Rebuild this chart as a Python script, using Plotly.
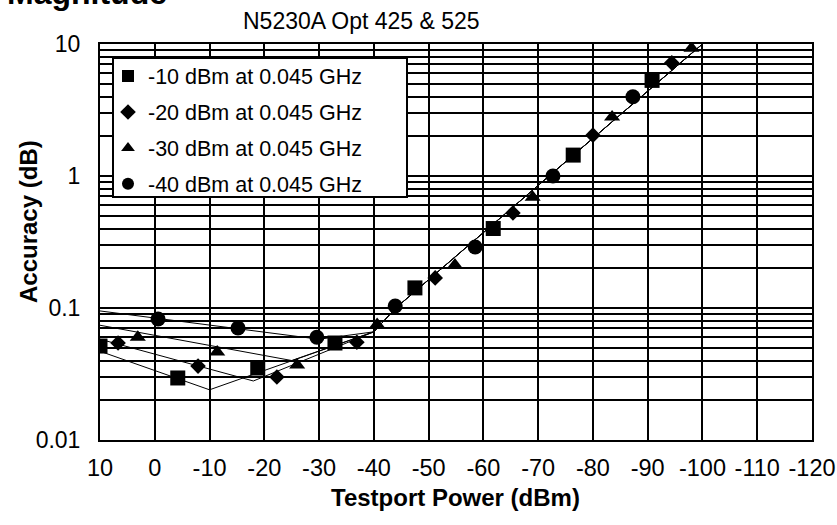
import plotly.graph_objects as go

# ---- data ----
SQ_X = [10, -4.2, -18.8, -32.9, -47.5, -61.8, -76.4, -90.8]
SQ_Y = [0.0515, 0.0295, 0.0351, 0.0543, 0.142, 0.40, 1.44, 5.3]
DM_X = [6.7, -7.9, -22.3, -36.9, -51.2, -65.4, -80.0, -94.4]
DM_Y = [0.0543, 0.0363, 0.030, 0.055, 0.169, 0.525, 2.04, 7.2]
TR_X = [3.1, -11.4, -26.0, -40.6, -54.8, -69.0, -83.5, -98.0]
TR_Y = [0.060, 0.0464, 0.037, 0.075, 0.212, 0.69, 2.8, 9.3]
CI_X = [-0.6, -15.2, -29.6, -43.9, -58.5, -72.7, -87.3]
CI_Y = [0.0826, 0.0705, 0.060, 0.1035, 0.29, 1.0, 3.98]

# thin model lines (left part differs, right part shared)
LA_X = [10, -30, -40];  LA_Y = [0.095, 0.058, 0.066]
LB_X = [10, -25, -40];  LB_Y = [0.074, 0.040, 0.066]
LC_X = [10, -18, -40];  LC_Y = [0.058, 0.028, 0.066]
LD_X = [10, -10, -40];  LD_Y = [0.047, 0.024, 0.066]
DIAG_X = [-44, -100]
DIAG_Y = [0.1, 10.0]

SERIES_NAMES = ["-10 dBm at 0.045 GHz", "-20 dBm at 0.045 GHz",
                "-30 dBm at 0.045 GHz", "-40 dBm at 0.045 GHz"]
X_TICKS = [10, 0, -10, -20, -30, -40, -50, -60, -70, -80, -90, -100, -110, -120]
Y_TICKS = [0.01, 0.1, 1, 10]
Y_TICK_TEXT = ["0.01", "0.1", "1", "10"]
Y_MINOR = [m * d for d in (0.01, 0.1, 1) for m in range(2, 10)]

FONT = "Liberation Sans, Arial, sans-serif"

fig = go.Figure()

for lx, ly in [(LA_X, LA_Y), (LB_X, LB_Y), (LC_X, LC_Y), (LD_X, LD_Y)]:
    fig.add_trace(go.Scatter(x=lx + DIAG_X, y=ly + DIAG_Y, mode="lines",
                             line=dict(color="black", width=1),
                             showlegend=False, hoverinfo="skip"))

specs = [(SQ_X, SQ_Y, "square", 15), (DM_X, DM_Y, "diamond", 12),
         (TR_X, TR_Y, "triangle-up", 14), (CI_X, CI_Y, "circle", 15)]
for i, (xs, ys, sym, sz) in enumerate(specs):
    fig.add_trace(go.Scatter(x=xs, y=ys, mode="markers", name=SERIES_NAMES[i],
                             legendgroup=f"g{i}",
                             marker=dict(symbol=sym, size=sz, color="black",
                                         line=dict(width=0))))

L, R, T, B = 100, 25, 44, 85
W, H = 837, 525
pw, ph = W - L - R, H - T - B

def px_x(p):
    return (p - L) / pw

def px_y(p):
    return (H - B - p) / ph

fig.update_layout(
    width=W, height=H,
    margin=dict(l=L, r=R, t=T, b=B, autoexpand=False),
    paper_bgcolor="white", plot_bgcolor="white",
    font=dict(family=FONT, color="black", size=23),
    showlegend=True,
    legend=dict(x=px_x(108), y=px_y(55.5), xanchor="left", yanchor="top",
                bgcolor="rgba(0,0,0,0)", borderwidth=0,
                font=dict(family=FONT, size=21.5, color="black"),
                tracegroupgap=5, itemsizing="constant"),
    xaxis=dict(range=[10, -120], tickvals=X_TICKS,
               ticktext=[str(v) for v in X_TICKS],
               showgrid=True, gridcolor="black", gridwidth=2,
               showline=True, linecolor="black", linewidth=2, mirror=True,
               ticks="outside", ticklen=6, tickcolor="rgba(0,0,0,0)",
               zeroline=False, tickfont=dict(size=23.5)),
    yaxis=dict(type="log", range=[-2, 1], tickvals=Y_TICKS, ticktext=Y_TICK_TEXT,
               showgrid=True, gridcolor="black", gridwidth=2,
               minor=dict(tickvals=Y_MINOR, showgrid=True, gridcolor="black",
                          gridwidth=2, ticks=""),
               showline=True, linecolor="black", linewidth=2, mirror=True,
               ticks="outside", ticklen=13, tickcolor="rgba(0,0,0,0)",
               zeroline=False, tickfont=dict(size=23)),
    shapes=[dict(type="rect", xref="paper", yref="paper",
                 x0=px_x(113), x1=px_x(407), y0=px_y(197), y1=px_y(58),
                 line=dict(color="black", width=2), fillcolor="white", layer="above")],
    annotations=[
        dict(text="<b>Magnitude</b>", xref="paper", yref="paper",
             x=px_x(5), y=px_y(-7), xanchor="left", yanchor="middle",
             showarrow=False, font=dict(size=32)),
        dict(text="N5230A Opt 425 & 525", xref="paper", yref="paper",
             x=px_x(361), y=px_y(21), xanchor="center", yanchor="middle",
             showarrow=False, font=dict(size=23)),
        dict(text="<b>Accuracy (dB)</b>", xref="paper", yref="paper",
             x=px_x(28), y=px_y(222), xanchor="center", yanchor="middle",
             textangle=-90, showarrow=False, font=dict(size=24)),
        dict(text="<b>Testport Power (dBm)</b>", xref="paper", yref="paper",
             x=px_x(455), y=px_y(497), xanchor="center", yanchor="middle",
             showarrow=False, font=dict(size=24)),
    ],
)

fig.write_html("out.html", config={"displayModeBar": False},
               post_script="document.body.style.margin='0px';")
